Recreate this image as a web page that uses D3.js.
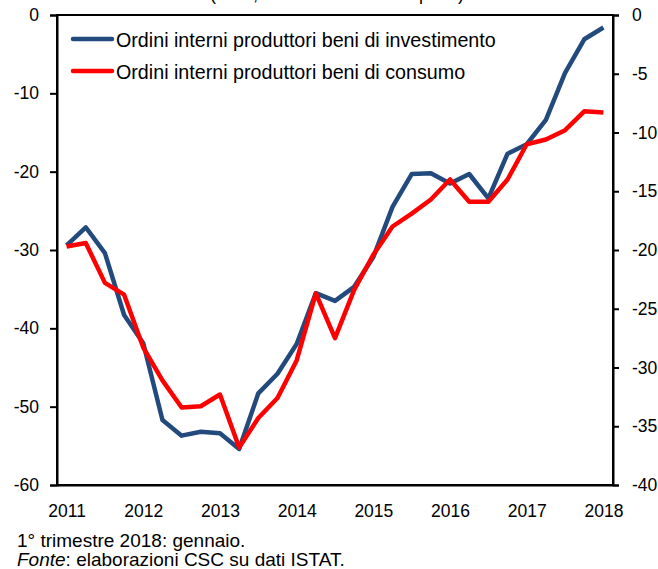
<!DOCTYPE html>
<html>
<head>
<meta charset="utf-8">
<script src="https://cdn.jsdelivr.net/npm/d3@7"></script>
<style>
  body { margin: 0; background: #fff; }
  svg { display: block; font-family: "Liberation Sans", Arial, sans-serif; }
</style>
</head>
<body>
<div id="chart"></div>
<script>
'use strict';

// quarters 2011Q1 .. 2018Q1
const years = [2011, 2012, 2013, 2014, 2015, 2016, 2017, 2018];
const quarters = [];
years.forEach((y) => {
  [1, 2, 3, 4].forEach((q) => { if (y < 2018 || q === 1) quarters.push(y + 'Q' + q); });
});

// left axis
const investimento = [
  -29.4, -27.1, -30.4, -38.3, -41.9, -51.7, -53.7, -53.2, -53.4, -55.4,
  -48.3, -45.8, -42.0, -35.5, -36.5, -34.7, -30.9, -24.5, -20.3, -20.2,
  -21.5, -20.3, -23.4, -17.7, -16.5, -13.4, -7.4, -3.1, -1.6
];
// right axis
const consumo = [
  -19.7, -19.4, -22.8, -23.8, -28.3, -31.1, -33.4, -33.3, -32.3, -36.8,
  -34.3, -32.6, -29.4, -23.7, -27.5, -23.4, -20.4, -18.0, -16.9, -15.7,
  -14.0, -15.9, -15.9, -14.0, -11.0, -10.6, -9.8, -8.2, -8.3
];
const leftTicks = [0, -10, -20, -30, -40, -50, -60];
const rightTicks = [0, -5, -10, -15, -20, -25, -30, -35, -40];
const seriesNames = [
  'Ordini interni produttori beni di investimento',
  'Ordini interni produttori beni di consumo'
];

const width = 658, height = 569;
const margin = { top: 15, right: 45, bottom: 84, left: 57 };
const tickFont = 17.5;
const fontFamily = '"Liberation Sans", Arial, sans-serif';

const svg = d3.select('#chart').append('svg')
  .attr('width', width)
  .attr('height', height);

const x = d3.scalePoint()
  .domain(quarters)
  .range([margin.left, width - margin.right])
  .padding(0.5);

const yLeft = d3.scaleLinear()
  .domain([-60, 0])
  .range([height - margin.bottom, margin.top]);

const yRight = d3.scaleLinear()
  .domain([-40, 0])
  .range([height - margin.bottom, margin.top]);

// title, cut by the top edge in the original
svg.append('text')
  .attr('x', 337)
  .attr('y', 0)
  .attr('text-anchor', 'middle')
  .attr('font-size', 18)
  .text('(saldi, medie trimestrali in punti)');

// frame
svg.append('rect')
  .attr('x', margin.left)
  .attr('y', margin.top)
  .attr('width', width - margin.left - margin.right)
  .attr('height', height - margin.top - margin.bottom)
  .attr('fill', 'none')
  .attr('stroke', '#000')
  .attr('stroke-width', 2);

const plain = (d) => String(d);

const axisLeft = svg.append('g')
  .attr('transform', `translate(${margin.left},0)`)
  .call(d3.axisLeft(yLeft).tickValues(leftTicks).tickSize(7).tickPadding(11).tickFormat(plain));

const axisRight = svg.append('g')
  .attr('transform', `translate(${width - margin.right},0)`)
  .call(d3.axisRight(yRight).tickValues(rightTicks).tickSize(6).tickPadding(13).tickFormat(plain));

const axisBottom = svg.append('g')
  .attr('transform', `translate(0,${height - margin.bottom})`)
  .call(d3.axisBottom(x)
    .tickValues(years.map((y) => y + 'Q1'))
    .tickSize(0).tickPadding(19.5)
    .tickFormat((d) => d.slice(0, 4)));

[axisLeft, axisRight, axisBottom].forEach((g) => {
  g.select('.domain').attr('stroke-width', 2);
  g.selectAll('.tick line').attr('stroke-width', 2);
  g.selectAll('text')
    .attr('font-family', fontFamily)
    .attr('font-size', tickFont)
    .attr('fill', '#000');
});

const lineLeft = d3.line()
  .x((d, i) => x(quarters[i]))
  .y((d) => yLeft(d));

const lineRight = d3.line()
  .x((d, i) => x(quarters[i]))
  .y((d) => yRight(d));

svg.append('path')
  .datum(investimento)
  .attr('d', lineLeft)
  .attr('fill', 'none')
  .attr('stroke', '#234A7C')
  .attr('stroke-width', 4.5)
  .attr('stroke-linejoin', 'round');

svg.append('path')
  .datum(consumo)
  .attr('d', lineRight)
  .attr('fill', 'none')
  .attr('stroke', '#FF0000')
  .attr('stroke-width', 4.5)
  .attr('stroke-linejoin', 'round');

// legend
const legendColors = ['#234A7C', '#FF0000'];
const legend = svg.append('g');
seriesNames.forEach((name, i) => {
  const ly = 39 + i * 32;
  legend.append('line')
    .attr('x1', 73).attr('x2', 112)
    .attr('y1', ly).attr('y2', ly)
    .attr('stroke', legendColors[i])
    .attr('stroke-width', 4.5)
    .attr('stroke-linecap', 'round');
  legend.append('text')
    .attr('x', 116)
    .attr('y', ly + 8)
    .attr('font-size', 19.7)
    .text(name);
});

// footnotes
const notes = svg.append('g').attr('font-size', 19);
notes.append('text')
  .attr('x', 17)
  .attr('y', 547)
  .text('1° trimestre 2018: gennaio.');
const fonte = notes.append('text')
  .attr('x', 17)
  .attr('y', 566);
fonte.append('tspan').attr('font-style', 'italic').text('Fonte');
fonte.append('tspan').text(': elaborazioni CSC su dati ISTAT.');
</script>
</body>
</html>
